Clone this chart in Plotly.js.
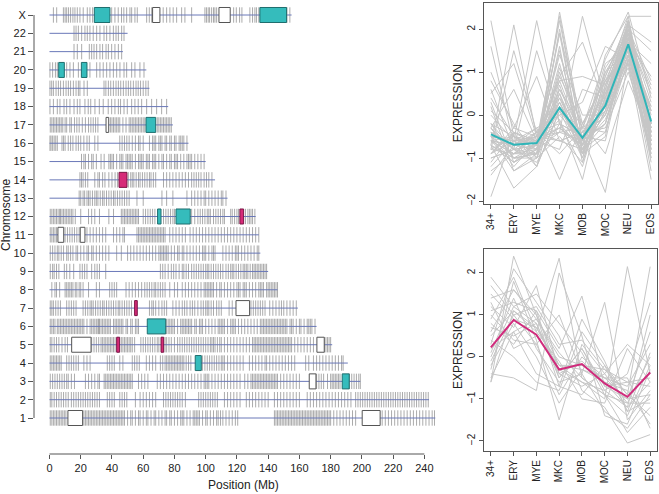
<!DOCTYPE html>
<html>
<head>
<meta charset="utf-8">
<script src="https://cdn.plot.ly/plotly-3.0.1.min.js"></script>
<style>
  html, body { margin: 0; padding: 0; background: #ffffff; }
  #graph { width: 659px; height: 494px; }
</style>
</head>
<body>
<div id="graph"></div>
<script>
// chromosomes, bottom to top
var chromNames = ["1","2","3","4","5","6","7","8","9","10","11","12","13","14","15","16","17","18","19","20","21","22","X"];
var chromLengths = [247,243,199,191,181,171,159,146,140,135,134,132,114,106,100,89,79,76,64,62,47,50,155];

// gene positions (Mb)
var genes1 = [0.5,1.5,2.5,3.5,4.5,5.5,6.5,7.5,8.5,9.5,10.5,22,23,24,25,26,27,28,29,30,31,32,33,34,35,36,37,38,39,40,41,42,43,44,45,46,47,48,50,52,53,55,57,58,60,62,63,65,67,68,70,72,74,75,77,78,80,82,84,85,86,88,90,92,93,94,95,96,98,100,101,103,105,107,108,109.5,111,113,115,117,119,120.5,144,145,146,147,148,149,150,151,152,153,154,155,156,157,158,159,160,161,162,163,164,165,166,167,168,169,170,171,172,173,174,175,176,177,178,179,180,182,184,186,188,190,192,194,196,213,215,217,219,221,223,225,227,229,231,233,235,237,239,241,243,245,246.5];
var genes2 = [0.5,1.5,3,4.5,6,7.5,9,10.5,12,14,15.5,17,18.5,20,21.5,23,24.5,26,27.5,29,30.5,32,37,38.5,40,41.5,45,46.5,48,49.5,55,58,60,62,64,66,68,73,74.5,76,77.5,79,80.5,82,83.5,85,87,95.5,97,98.5,100,101.5,103,104.5,106,107.5,112,114,116,118,120,122,126,128,130,132,134,136,138,140,144,146,148,150,152,154,156,158,160,165,167,169,171,173,175,177,179,181,183,185,187,189,191,193,196,197.5,199,200.5,202,203.5,205,206.5,208,209.5,211,212.5,214,215.5,217,218.5,220,221.5,223,224.5,226,227.5,229,230.5,232,233.5,235,236.5,238,239.5,241,242.5];
var genes3 = [0.5,2,3.5,5,6.5,8,9.5,11,12,14,16,23,25,27,29,31,32,35,36,37,38,39,40,41,42,43,44,45,46,47,48,49,50,51,52,53,57,59,61,63,69,71,73,75,77,79,81,83,85,87,89,91,93,95,97,99,100,101,102,104,106,108,110,112,114,116,118,120,122,125,127,129,130,131,132,133,134,135,136,137,138,139,140,141,142,143,144,145,146,148,150,152,154,156,158,160,171,172.5,174,175.5,178,180,181,182,183,184,185,186,192,193.5,195,196.5,198,199];
var genes4 = [0.5,1.5,2.5,3.5,4.5,5.5,6.5,7.5,11,12.5,14,15.5,17,18.5,22,24,26,37,38.5,40,41.5,45,47,53,54.5,56,57.5,62,64,66,68,71,72.5,74,75,76,77,78,79,80,81,82,83,84,85,86,87.5,89,90.5,98,99.5,101,102.5,104,105.5,107,108.5,110,111,112,114,116,118,120,122,124,128,130,132,134,136,138,139,141,143,145,147,149,151,153,155,157,164,166,169,171,173,175,177,179,181,183,185,187,188];
var genes5 = [0.5,1.5,3,4.5,6,8,10,11.5,27,28.5,30,31.5,33,34,35,36,37,38,39,40,41,42,46,47,48,49,50,51,52,53,54.5,58.5,60,61.5,63,64.5,66,67.5,69,70,74,75,76.5,78,80,82,83.5,85,86.5,88,89.5,91,92.5,94,95.5,97,98.5,100,101.5,103,104,105,106,107.5,109,110,112,114,116,118,120,122,124,126,128,130,131,132,133,134,135,136,137,138,139,140,141,142,143,144,145,146,147,148,149,150,151,152,153,154,155,157,159,161,163,165,167,169,176,177,178,179,180];
var genes6 = [0.5,1.5,2.5,3.5,5,6,7,8,9,10,11,12,13,14,15,16,17,18,19,20,21,22,24,26,27,28,29,30,31,31.5,32,33,34,35,36,37,38,39,41,42,43,44,45,46,47,49,50,52,53,55,56,57,75,76,77,78,79,80,82,84,85,86,87,88,89,90,91,93,94,96,97,98,100,102,104,106,108,109,110,111,112,114,116,117,118,119,121,123,125,127,129,131,133,135,136,137,138,139,140,141,142,143,144,145,146,147,148,149,150,151,152,154,155,156,158,160,161,163,165,166,167,168,170];
var genes7 = [0.5,1.5,2.5,4,5.5,7,11,12.5,14,15.5,17,21.5,23,24.5,26,27,28,29.5,31,32.5,34,35,36.5,38,39.5,41,42.5,44,45,46.5,48,49.5,51,52.5,64,65.5,66.5,68,70,72,73.5,75,79,81,83,85,86.5,88,90,91.5,93,95,97,98.5,100,101,102,103.5,105,107,108.5,110,115,117,129,130.5,132,133.5,135,136.5,138,141,143,145,147,148.5,150,152,154,156,158];
var genes8 = [1.5,3.5,4.5,6.5,10,11,12,13,14,15,16.5,17.5,19,20,21.5,25,30,32,38.5,40,41.5,43,49,51,53,55,57,59,61,62.5,64,65.5,67,68,69.5,71,72.5,74,77,80,82,85,87,89,91,93,95,97,99,100,101,102,103,104,105,107,109,110,112,114,116,118,120,121,122,124,125,126,128,130,132,134,135,136,137,139,140,141,142,143,144,145,146];
var genes9 = [0.5,2,3,4.5,6,9.5,11,13,15.5,19.5,21,22.5,24,27,29,30.5,32,36,71,72.5,74,76,78,79.5,81,83,85,86,87.5,89,91,92.5,94,95.5,97,98.5,100,101,102,103.5,105,106.5,108,109.5,111,113,114.5,116,117,118,119.5,121,122.5,124,125,126,127,128.5,130,131,132,133,134,135,136,137,138,139];
var genes10 = [0.5,2,3.5,5,6,7.5,9,11,12,13.5,15,17,18,20,22,24,25,27,28,30,32,34,36,38,43,46,50,52,54,56,58,60,62,64,66,68,70,71,72,73,74,75,76,78,80,82,83,85,86,88,90,92,94,96,98,99,100,102,104,105,106,111,113,115,117,119,120,121,123,125,127,129,131,133,134];
var genes11 = [0.5,1.5,2.5,3.5,4.5,10,11.5,13,14.5,16,17.5,19,24,26,28,30,32,34,36,41,43,45,47,48,56,57,58,59,60,61,62,63,64,65,66,67,68,69,70,71,72,73,74,77,79,81,83,85,87,90,92,94,96,98,100,102,104,106,108,110,112,114,116,118,120,122,124,126,128,130,132,134];
var genes12 = [0.5,1.5,2.5,3.5,4.5,5.5,6.5,7,8,9,10,11,12,13,14,15,16.5,20,25,27,29,32,38,41,46,47,48,49,50,51,52,53,54,55,56,57,60,61.5,63,64.5,66,67.5,73,74.5,76,77.5,79,80,91,93,95,96.5,98,99.5,101,102,103,105,106.5,108,109.5,111,112,116,117,118.5,120,121,125.5,127,128,129,130,131.5];
var genes13 = [19,20,21.5,22.5,24,25,26,27.5,29,30,31,32.5,34,35,36.5,38,39.5,41,42,43.5,45,46.5,48,49.5,51,56,60,72,75,79,88,91,93,95,97,99,100,102,104,106,108,110,111,113];
var genes14 = [19.5,20.5,21.5,23,24.5,29,31,32,34,35.5,38,40,42,43.5,50.5,52,53,54,55.5,57,58,59.5,61,62.5,64,65,66.5,68,73,75,77,79,81,83,85,87,89,91,92.5,94,95.5,97,99,100.5,102,104];
var genes15 = [20.5,22,23,25,27,28,30,33,35,38,39,40,41,43,45,46,47,49,50,51,52,53,55,57,58,59,60,62,63,64,66,67,68,70,72,73,75,77,78,80,81,82,84,86,88,89,90,91,93,95,97,99];
var genes16 = [0.3,1,2,3,4,5,8,9,10,12,13.5,15,17,18.5,20,22,24,25.5,29,31,45,46.5,48,49.5,51,53,55,57,58,60,64,66,67,68,70,71,72,74,75,77,78,80,81,83,84,85,86,88];
var genes17 = [0.5,1.5,2.5,3.5,4.5,5.5,6.5,7.5,8.5,10,11,13,14,16,17.5,19,21,23,25,26.5,28,29.5,31,39,40,41,42,43,44,45,47,49,51,52,53,54,55,56,57,58,59,60,61,69,70,71,72,73,74,75,76,77,78];
var genes18 = [0.3,2.5,5,6.7,9.3,11,13.1,15.7,17.8,19.5,22.7,24.8,26.4,29.1,31.9,34.4,37.6,39.8,41.9,44.1,45.5,47.7,49.8,52.6,54.7,56.8,59,62.2,65.4,68.6,71.8,75];
var genes19 = [0.3,1.4,2.5,4.2,5.7,7.1,8.9,10.6,12.1,13.5,15.3,17,18.5,19.5,22.1,24.2,34.9,36.1,37.7,39.2,40.9,42.6,44.1,45.6,47.3,49,50.5,52,53.7,55.4,56.8,58.3,60,61.7,63.2];
var genes20 = [0.3,2,3.8,5,11,13.1,15.3,18.5,25.9,30.2,32.3,34.4,36.6,38.7,40.9,43,45.1,47.7,49.4,52.6,54.7,57.9,60.5];
var genes21 = [15.7,17.8,20.6,25.5,27,28.5,30.2,32.3,34,36.2,37.7,39.8,41.9,44.1,46.2];
var genes22 = [15.7,17,18.5,20.6,22.7,24.2,25.9,28,30.2,32.3,34.9,36.6,38.7,40.9,42.6,44.1,46.2,47.7];
var genesX = [2.5,4.6,8.9,10,11,12.2,13.5,15,16.3,17.8,19.5,21.6,24.2,25.9,27.6,39.8,41.9,44,46.1,47.6,49.4,51.5,52.6,54.7,56.2,62.2,63.9,65.4,72.8,75,77.1,79.2,81.4,84.6,86.7,91,99.5,100.5,101.6,102.5,103.8,105,105.9,107,117.9,119.6,121.7,123.2,128.3,130,131.5,132.5,134,152,153.9];
var geneLists = [genes1,genes2,genes3,genes4,genes5,genes6,genes7,genes8,genes9,genes10,genes11,genes12,genes13,genes14,genes15,genes16,genes17,genes18,genes19,genes20,genes21,genes22,genesX];

// highlighted regions
var boxChrom = ["X","X","X","X","20","20","17","17","14","12","12","12","11","11","7","7","6","5","5","5","5","4","3","3","1","1"];
var boxStart = [28.7,66,108.5,134.7,5.9,20.4,36.2,61.8,44.5,69.2,81,121.9,5.4,19.7,54.5,119.4,62.6,14.2,43,71.4,171.2,93.3,166.3,187.4,11.8,200.2];
var boxEnd   = [38.7,70.7,115.7,151.8,9.5,24,37.9,68,49.6,71.4,90.1,124.3,9.1,22.7,56.2,128.1,74.4,26.6,44.9,73.1,175.9,97.2,170.6,191.9,21.2,211.7];
var boxKind  = ["cyan","white","white","cyan","cyan","cyan","white","cyan","magenta","cyan","cyan","magenta","white","white","magenta","white","cyan","white","magenta","magenta","white","cyan","white","cyan","white","white"];

// expression profiles
var stages = ["34+","ERY","MYE","MKC","MOB","MOC","NEU","EOS"];
var cyanMean = [-0.45,-0.69,-0.65,0.17,-0.53,0.22,1.65,-0.15];
var magentaMean = [0.23,0.88,0.53,-0.3,-0.17,-0.63,-0.95,-0.37];
var cyanMembers = [
  [-0.4,-0.8,-0.7,2.3,-0.6,0.3,1.8,-0.3],[-0.6,-0.9,-0.8,1.9,-0.9,0.1,1.6,0.2],
  [2.2,-0.5,-0.6,-0.3,-0.7,0.0,1.7,-0.5],[-0.7,2.1,-0.5,-0.4,-0.6,0.2,1.5,-0.3],
  [-0.5,-0.6,2.2,-0.2,-0.8,0.4,1.9,-0.6],[-0.6,-0.7,-0.6,-0.4,2.3,0.3,1.4,-0.8],
  [-0.3,-1.0,-0.9,0.4,-0.5,-1.8,1.3,0.1],[-1.9,-0.4,-0.6,0.6,-0.3,0.9,2.1,-0.4],
  [-0.4,-0.7,-0.8,1.2,-0.7,1.4,2.3,2.3],[0.2,-1.3,-1.0,-0.5,-1.1,0.6,1.2,-1.5],
  [1.0,-0.3,-0.5,0.8,0.9,0.7,1.6,-0.7],[-0.8,1.5,-0.4,-0.6,-0.8,-0.2,1.8,0.1],
  [-0.5,-0.9,-0.9,2.4,-0.4,-0.3,1.0,-0.6],[-1.2,-0.6,-0.3,-1.5,-0.2,0.8,2.0,1.5],
  [0.4,-0.5,-0.7,0.3,-0.9,1.1,1.9,-0.2],[-0.7,-1.7,-1.2,0.1,-0.6,0.5,2.0,0.8],
  [-0.2,-0.8,1.5,-0.2,-0.5,0.0,1.4,-0.4],[-0.9,-0.6,-0.6,0.9,1.7,0.2,1.1,-0.9],
  [0.8,-0.2,-1.0,0.2,-0.9,-0.5,2.2,-0.2],[-0.6,-1.1,-0.8,1.6,-1.1,0.4,1.8,-1.0],
  [-1.4,-0.7,-0.4,-0.9,-0.3,1.3,2.4,0.4],[-0.3,0.6,-0.6,-0.3,-0.7,0.8,1.5,-1.3],
  [-0.8,-0.9,-0.5,0.0,0.3,1.6,1.3,0.2],[0.1,-0.4,-1.2,0.7,-0.8,-0.4,1.7,1.2],
  [-0.5,-1.3,-0.9,0.5,-1.0,0.9,2.2,-0.7],[1.6,-0.7,-0.3,0.0,-0.6,-0.2,1.4,-0.3],
  [-0.9,-0.3,0.9,-0.6,-0.4,0.1,1.9,0.6],[-0.2,-1.0,-0.7,1.9,-0.2,-0.9,0.8,-0.5],
  [-1.0,-0.8,-1.1,-0.2,-1.2,0.6,2.1,1.7],[0.5,1.2,-0.5,0.3,-0.7,-0.1,1.2,-0.8],
  [-0.6,-0.5,-0.8,1.0,-0.6,1.2,1.6,-1.1],[-0.4,-1.2,-0.6,-0.8,0.6,0.4,2.0,-0.2],
  [-1.3,-0.9,-0.4,0.4,-0.8,0.3,1.8,0.0],[0.0,-0.6,-0.9,2.0,-0.9,0.5,1.5,-0.6],
  [-0.7,-1.0,-1.0,0.6,-0.5,-0.6,1.7,0.9],[-0.3,-0.8,-0.7,-0.1,-1.5,0.7,2.3,-0.4],
  [-1.1,-0.4,-0.6,1.4,0.0,0.0,1.3,-0.9],[-0.5,-0.6,-0.5,0.2,-0.7,1.0,1.9,0.3],
  [0.3,-1.1,-0.8,-0.4,-0.3,0.2,1.6,-0.1],[-0.8,-0.5,-1.0,0.8,-0.6,0.6,2.1,-0.5],
  [-0.6,-0.9,-0.7,1.5,-0.8,0.3,1.7,-0.3],[-0.4,-0.7,-0.5,-0.6,-0.4,0.5,1.8,0.5],
  [-1.0,-0.8,-0.9,0.3,-0.9,0.1,2.0,-0.8],[-0.2,-0.5,-0.8,0.9,-0.2,0.8,1.4,-0.2],
  [-0.7,-1.1,-0.6,2.2,-0.6,-0.2,1.6,0.1],[-0.5,-0.6,-1.2,0.1,-1.0,0.4,2.2,-0.6],
  [0.6,-0.8,-0.4,-0.2,-0.5,1.0,1.5,-0.4],[-0.9,-0.4,-0.7,0.5,-0.7,0.7,1.9,0.7],
  [-0.3,-1.0,-0.9,1.1,-0.3,-0.4,1.3,-1.0],[-0.6,-0.7,-0.5,-0.3,-0.8,0.2,2.1,-0.2]
];
var magentaMembers = [
  [1.9,1.2,0.8,-0.5,0.2,-0.8,-1.2,-0.6],[-0.6,2.4,1.0,-0.2,-0.3,-0.5,-1.0,-0.9],
  [0.5,1.1,0.6,2.35,-0.5,-0.9,-1.4,-0.2],[1.2,0.7,1.7,-0.4,-0.1,-0.6,-0.8,-1.6],
  [-0.3,1.8,0.4,-1.5,0.3,-0.4,-1.1,0.0],[0.8,0.3,1.1,0.2,1.45,-0.7,-0.6,-0.5],
  [0.1,1.4,0.2,-0.6,-0.4,1.3,-1.5,-0.8],[1.5,0.9,0.7,-0.3,-0.6,-1.0,2.15,-0.4],
  [-0.5,0.6,0.9,0.0,-0.2,-0.3,-0.9,2.15],[0.3,2.1,1.3,0.5,-0.8,-1.2,-2.05,-1.85],
  [1.0,0.4,0.3,-0.9,0.0,-0.5,-0.7,0.3],[0.6,1.6,1.0,-0.7,-0.9,-0.2,-1.3,-1.0],
  [-0.4,-0.5,-0.8,2.0,0.5,-1.4,-1.6,-0.3],[1.3,0.2,0.5,-0.2,-0.6,-0.8,-0.4,1.3],
  [0.0,1.2,1.5,0.8,0.1,-0.9,-1.8,-1.2],[1.7,1.0,1.2,0.3,0.4,-0.3,-0.6,-0.7],
  [-0.2,0.8,0.0,-1.1,-0.3,-0.6,-1.2,1.0],[0.9,1.9,0.6,-0.1,-1.0,-1.1,0.2,-0.6],
  [0.4,0.0,-0.6,-0.8,0.6,-0.2,-0.9,-1.4],[1.1,1.3,1.1,-0.5,0.2,-0.7,-1.0,0.6],
  [-0.1,1.0,0.3,1.0,-0.4,-1.3,-1.7,-0.9],[0.7,0.5,0.8,-0.4,-0.7,-0.4,0.3,-0.2],
  [1.4,1.6,0.9,0.1,-0.5,-0.9,-1.1,-1.1],[0.2,0.6,-0.4,-0.7,0.9,-0.1,-1.3,0.1],
  [-0.6,1.1,0.7,-0.2,-0.2,-0.5,-0.5,-1.7]
];

var boxColors = {
  cyan:    {fill: "#35bcbc", line: "#1f6e6e"},
  white:   {fill: "#ffffff", line: "#555555"},
  magenta: {fill: "#d62a78", line: "#7a1444"}
};

function drawGraph() {
  var data = [], shapes = [];
  var i, j;
  var half = 0.42;

  // gene ticks
  var tx = [], ty = [];
  for (i = 0; i < geneLists.length; i++) {
    for (j = 0; j < geneLists[i].length; j++) {
      tx.push(geneLists[i][j], geneLists[i][j], null);
      ty.push(i + 1 - half, i + 1 + half, null);
    }
  }
  data.push({x: tx, y: ty, type: "scatter", mode: "lines", hoverinfo: "skip",
             line: {color: "rgba(115,115,115,0.6)", width: 1}, xaxis: "x", yaxis: "y"});

  // chromosome lines
  var lx = [], ly = [];
  for (i = 0; i < chromLengths.length; i++) {
    lx.push(0, chromLengths[i], null);
    ly.push(i + 1, i + 1, null);
  }
  data.push({x: lx, y: ly, type: "scatter", mode: "lines", hoverinfo: "skip",
             line: {color: "#6a78b8", width: 1}, xaxis: "x", yaxis: "y"});

  // highlighted regions
  for (i = 0; i < boxChrom.length; i++) {
    var row = chromNames.indexOf(boxChrom[i]) + 1;
    var c = boxColors[boxKind[i]];
    shapes.push({type: "rect", xref: "x", yref: "y", layer: "above",
                 x0: boxStart[i], x1: boxEnd[i], y0: row - 0.41, y1: row + 0.41,
                 fillcolor: c.fill, line: {color: c.line, width: 1}});
  }

  // R-style detached axis lines for the left panel
  shapes.push({type: "line", xref: "x", yref: "paper", x0: 0, x1: 240, y0: 0, y1: 0,
               line: {color: "#555555", width: 1}});
  shapes.push({type: "line", xref: "paper", yref: "y", x0: 0, x1: 0, y0: 1, y1: 23,
               line: {color: "#555555", width: 1}});

  // expression panels
  var xs = stages.map(function (s, k) { return k; });
  cyanMembers.forEach(function (p) {
    data.push({x: xs, y: p, type: "scatter", mode: "lines", hoverinfo: "skip",
               line: {color: "#c6c6c6", width: 1}, xaxis: "x2", yaxis: "y2"});
  });
  data.push({x: xs, y: cyanMean, type: "scatter", mode: "lines",
             line: {color: "#2fb5b8", width: 2}, xaxis: "x2", yaxis: "y2"});
  magentaMembers.forEach(function (p) {
    data.push({x: xs, y: p, type: "scatter", mode: "lines", hoverinfo: "skip",
               line: {color: "#c6c6c6", width: 1}, xaxis: "x3", yaxis: "y3"});
  });
  data.push({x: xs, y: magentaMean, type: "scatter", mode: "lines",
             line: {color: "#d02b7c", width: 2}, xaxis: "x3", yaxis: "y3"});

  var narrow = {family: "Liberation Sans Narrow, Liberation Sans, Arial, sans-serif", size: 11, color: "#222"};
  var small = {family: "Liberation Sans, Arial, sans-serif", size: 10, color: "#222"};

  function exprX(anchor, dom) {
    return {domain: dom, anchor: anchor, range: [-0.3, 7.3],
            tickvals: xs, ticktext: stages, tickangle: -90, tickfont: small,
            ticks: "outside", ticklen: 4, tickcolor: "#555",
            showline: true, mirror: true, linecolor: "#555", linewidth: 1,
            showgrid: false, zeroline: false};
  }
  function exprY(anchor, dom, rng) {
    return {domain: dom, anchor: anchor, range: rng,
            tickvals: [-2, -1, 0, 1, 2], tickangle: -90, tickfont: small,
            ticks: "outside", ticklen: 4, tickcolor: "#555",
            showline: true, mirror: true, linecolor: "#555", linewidth: 1,
            showgrid: false, zeroline: false};
  }

  var layout = {
    width: 659, height: 494,
    margin: {l: 34, r: 1, t: 3, b: 40},
    paper_bgcolor: "#ffffff", plot_bgcolor: "rgba(0,0,0,0)",
    showlegend: false,
    font: {family: "Liberation Sans, Arial, sans-serif", color: "#222"},
    xaxis: {domain: [0, 0.6506], anchor: "y", range: [-9.92, 250],
            tickvals: [0,20,40,60,80,100,120,140,160,180,200,220,240],
            ticks: "outside", ticklen: 4, tickcolor: "#555", tickfont: narrow,
            showline: false, showgrid: false, zeroline: false},
    yaxis: {domain: [0, 1], anchor: "x", range: [-0.965, 23.655],
            tickvals: chromNames.map(function (n, k) { return k + 1; }),
            ticktext: chromNames,
            ticks: "outside", ticklen: 5, tickcolor: "#555", tickfont: narrow,
            showline: false, showgrid: false, zeroline: false},
    xaxis2: exprX("y2", [0.7212, 1]),
    yaxis2: exprY("x2", [0.5543, 1], [-2.07, 2.61]),
    xaxis3: exprX("y3", [0.7212, 0.9984]),
    yaxis3: exprY("x3", [0.00665, 0.4545], [-2.24, 2.57]),
    shapes: shapes,
    annotations: [
      {text: "Position (Mb)", xref: "paper", yref: "paper", x: 0.335, y: -0.0687,
       xanchor: "center", yanchor: "middle",
       showarrow: false, font: {family: narrow.family, size: 12, color: "#222"}},
      {text: "Chromosome", xref: "paper", yref: "paper", x: -0.0449, y: 0.53,
       xanchor: "center", yanchor: "middle",
       textangle: -90, showarrow: false, font: {size: 12, color: "#222"}},
      {text: "EXPRESSION", xref: "paper", yref: "paper", x: 0.6795, y: 0.778,
       xanchor: "center", yanchor: "middle",
       textangle: -90, showarrow: false, font: {size: 12, color: "#222"}},
      {text: "EXPRESSION", xref: "paper", yref: "paper", x: 0.6795, y: 0.2306,
       xanchor: "center", yanchor: "middle",
       textangle: -90, showarrow: false, font: {size: 12, color: "#222"}}
    ]
  };

  Plotly.newPlot("graph", data, layout, {displayModeBar: false, staticPlot: true});
}

drawGraph();
</script>
</body>
</html>
